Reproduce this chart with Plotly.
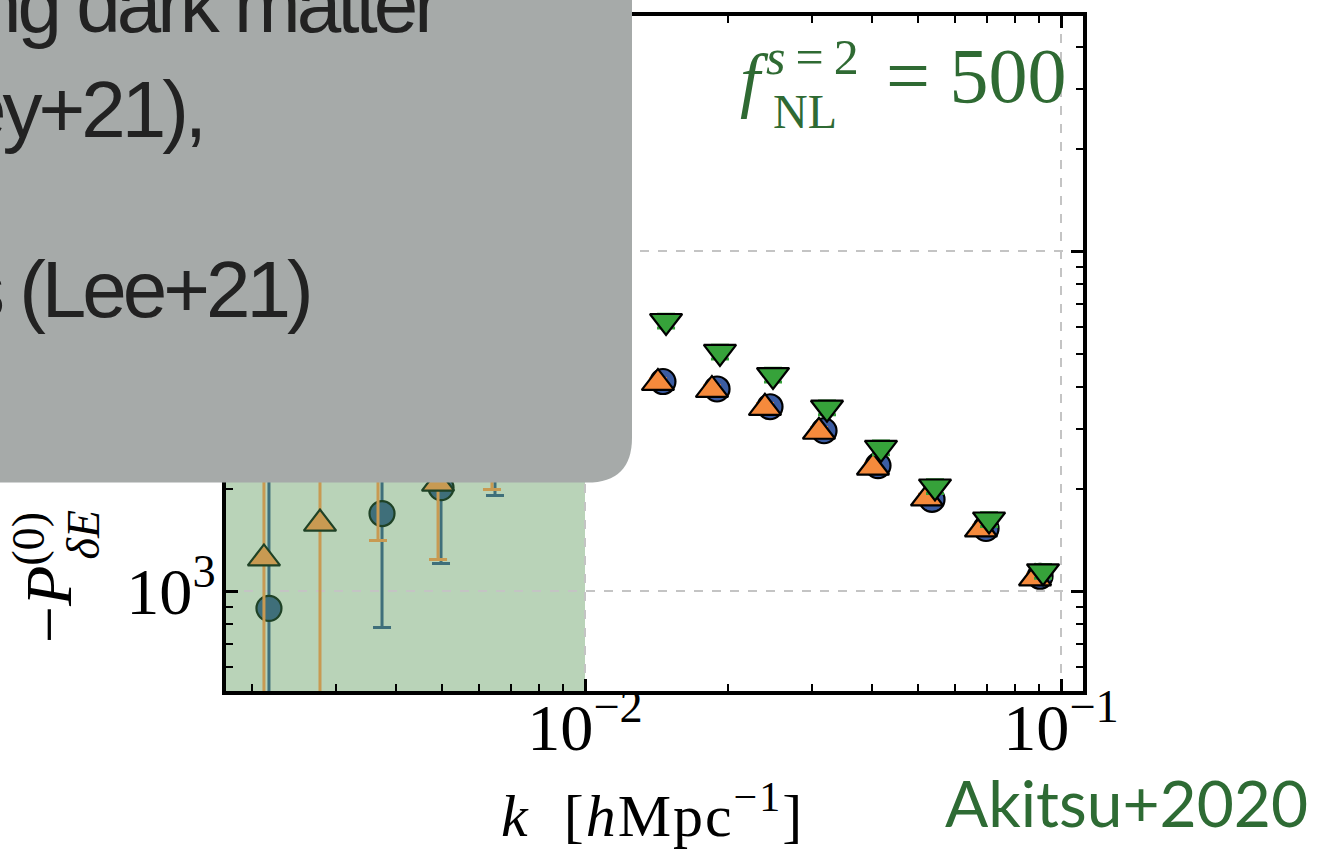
import plotly.graph_objects as go

# ---------------- data ----------------
# blue circles
k_blue = [0.002168, 0.002843, 0.003746, 0.004983, 0.00647, 0.008444, 0.01107,
          0.01458, 0.01894, 0.02447, 0.03178, 0.04126, 0.05358, 0.06958, 0.09035]
p_blue = [891, 3000, 1693, 2018, 2773, 3170, 3760,
          4140, 3936, 3490, 2966, 2343, 1863, 1530, 1107]
lo_blue = [300, 2400, 783, 1208, 1913, 2600, 3300,
           4020, 3820, 3390, 2880, 2275, 1810, 1485, 1075]
hi_blue = [20000, 3800, 3500, 3000, 3600, 3800, 4300,
           4260, 4050, 3590, 3050, 2410, 1920, 1575, 1140]

# orange triangles
k_orange = [0.002116, 0.002775, 0.003674, 0.004912, 0.006376, 0.008282, 0.0108,
            0.01423, 0.01848, 0.02388, 0.03101, 0.04027, 0.0523, 0.0679, 0.0882]
p_orange = [1249, 1582, 2421, 2074, 2680, 3070, 3680,
            4100, 3910, 3464, 2946, 2312, 1875, 1520, 1092]
lo_orange = [300, 300, 1411, 1241, 1992, 2500, 3250,
             3980, 3795, 3365, 2860, 2245, 1820, 1475, 1060]
hi_orange = [20000, 20000, 3500, 3000, 3600, 3700, 4200,
             4220, 4025, 3565, 3030, 2380, 1930, 1565, 1125]

# green down-triangles (f_NL^{s=2} = 500)
k_green = [0.0148, 0.01921, 0.02483, 0.03224, 0.04186, 0.05436, 0.0706, 0.09167]
p_green = [6237, 5058, 4326, 3467, 2642, 2033, 1626, 1145]
lo_green = [5950, 4825, 4128, 3308, 2521, 1940, 1552, 1093]
hi_green = [6530, 5295, 4530, 3630, 2765, 2128, 1702, 1199]

K_CUT = 0.01          # edge of the shaded (excluded) k-range
x_range_log = [-2.7542, -0.9538]
y_range_log = [2.7067, 4.6921]

# ---------------- figure geometry helpers ----------------
W, H = 1334, 849
L, R, T, B = 226, 251, 14, 158
PW, PH = W - L - R, H - T - B


def px(x):
    return (x - L) / PW


def py(y):
    return (H - B - y) / PH


BLUE, ORANGE, GREEN = "#3b5ca2", "#f58a3c", "#36a23a"
BLUE_M, ORANGE_M = "#3f6f7a", "#c89a52"
EDGE_M = "#1f4226"

fig = go.Figure()


def add_series(k, p, lo, hi, symbol, size, col, col_m, name):
    for inside in (True, False):
        idx = [i for i in range(len(k)) if (k[i] < K_CUT) == inside]
        if not idx:
            continue
        c = col_m if inside else col
        edge = EDGE_M if inside else "black"
        fig.add_trace(go.Scatter(
            x=[k[i] for i in idx], y=[p[i] for i in idx], mode="markers",
            name=name, showlegend=False,
            marker=dict(symbol=symbol, size=size, color=c,
                        line=dict(color=edge, width=2.2)),
            error_y=dict(type="data", symmetric=False,
                         array=[hi[i] - p[i] for i in idx],
                         arrayminus=[p[i] - lo[i] for i in idx],
                         color=c, thickness=3, width=9),
            cliponaxis=True,
        ))


add_series(k_blue, p_blue, lo_blue, hi_blue, "circle", 25, BLUE, BLUE_M, "blue")
add_series(k_orange, p_orange, lo_orange, hi_orange, "triangle-up", 28, ORANGE, ORANGE_M, "orange")
add_series(k_green, p_green, lo_green, hi_green, "triangle-down", 28, GREEN, GREEN, "green")

axis_common = dict(
    type="log", dtick=1, exponentformat="power", showexponent="all",
    showline=True, linecolor="black", linewidth=3.5, mirror="allticks",
    ticks="inside", ticklen=12, tickwidth=2.5, tickcolor="black",
    showgrid=True, gridcolor="#c4c4c4", griddash="dash", gridwidth=1.5,
    zeroline=False,
    tickfont=dict(family="Liberation Serif, serif", size=53, color="black"),
    minor=dict(ticks="inside", ticklen=7, tickwidth=1.5, tickcolor="black",
               dtick="D1", showgrid=False),
)

fig.update_xaxes(range=x_range_log, ticklabelstandoff=-22, **axis_common)
fig.update_yaxes(range=y_range_log, ticklabelstandoff=-4, **axis_common)

shapes = [
    # shaded excluded k-range
    dict(type="rect", xref="x", yref="y", x0=0.001, x1=K_CUT, y0=100, y1=1e6,
         fillcolor="#b9d3b8", line=dict(width=0), layer="below"),
]
# grey slide box with a rounded lower-right corner
r = 45
bx0, bx1, by0, by1 = -10, 632, -10, 482
path = (f"M {px(bx0)},{py(by0)} L {px(bx1)},{py(by0)} L {px(bx1)},{py(by1 - r)} "
        f"Q {px(bx1)},{py(by1)} {px(bx1 - r)},{py(by1)} L {px(bx0)},{py(by1)} Z")
shapes.append(dict(type="path", xref="paper", yref="paper", path=path,
                   fillcolor="#a6aaa9", line=dict(width=0), layer="above"))

SANS = "Liberation Sans, Arial, sans-serif"
SERIF = "Liberation Serif, serif"
GTXT = "#2f6a33"

ann = []


def a(text, x, y, size, family, color="black", xanchor="center", angle=0):
    ann.append(dict(text=text, x=px(x), y=py(y), xref="paper", yref="paper",
                    xanchor=xanchor, yanchor="middle", showarrow=False,
                    textangle=angle, font=dict(size=size, family=family, color=color)))


def spaced(s, sp):
    return f'<span style="letter-spacing:{sp}px">{s}</span>'


# slide text on the grey box
a(spaced("ng dark matter", -4), 442, 2, 80, SANS, "#222222", "right")
a(spaced("ey+21),", -4), 205, 108, 80, SANS, "#222222", "right")
a(spaced("s (Lee+21)", -4), 312, 288, 80, SANS, "#222222", "right")

# f_NL label
a("<i>f</i>", 754, 78, 72, SERIF, GTXT)
a("<i>s</i>\u2009=\u20092", 812, 55, 50, SERIF, GTXT)
a("NL", 805, 110, 48, SERIF, GTXT)
a("= 500", 976, 74, 78, SERIF, GTXT)

# axis titles
a(spaced("<i>k</i>  [<i>h</i>Mpc<sup>−1</sup>]", 2), 652, 812, 60, SERIF)
a("−<i>P</i><sup>(0)</sup>", 44, 578, 66, SERIF, angle=-90)
a("<i>δE</i>", 83, 535, 46, SERIF, angle=-90)

# citation
a("Akitsu+2020", 1310, 803, 64, "Lato, sans-serif", "#2e6b34", "right")

fig.update_layout(
    width=W, height=H, autosize=False,
    margin=dict(l=L, r=R, t=T, b=B, pad=0),
    paper_bgcolor="white", plot_bgcolor="white",
    shapes=shapes, annotations=ann, showlegend=False,
)

fig.write_html("out.html", config={"displayModeBar": False},
               post_script="document.body.style.margin='0';"
                           "document.body.style.overflow='hidden';")
